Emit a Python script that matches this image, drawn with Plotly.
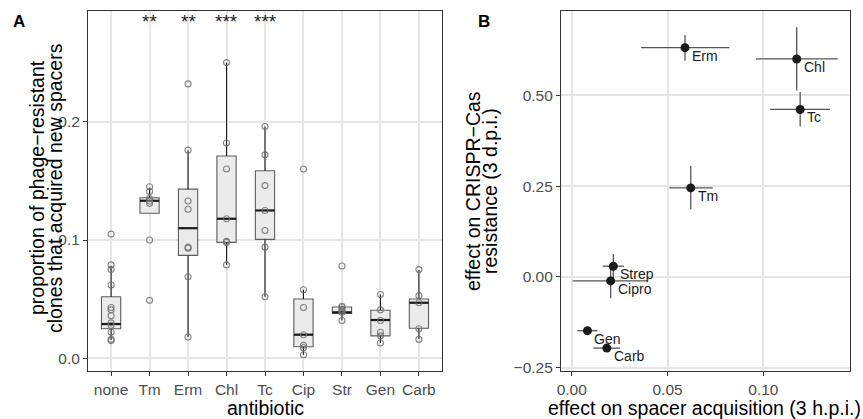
import plotly.graph_objects as go

# ---------------- Panel A data ----------------
categories = ["none", "Tm", "Erm", "Chl", "Tc", "Cip", "Str", "Gen", "Carb"]
box_q1 = [0.025, 0.1226, 0.087, 0.098, 0.1006, 0.0098, 0.038, 0.019, 0.0254]
box_median = [0.029, 0.1332, 0.110, 0.118, 0.125, 0.020, 0.0389, 0.0324, 0.047]
box_q3 = [0.052, 0.1358, 0.143, 0.171, 0.1586, 0.0501, 0.0434, 0.0406, 0.0501]
whisker_low = [0.0155, 0.1226, 0.018, 0.079, 0.052, 0.003, 0.032, 0.013, 0.0163]
whisker_high = [0.0783, 0.1445, 0.176, 0.250, 0.196, 0.058, 0.0445, 0.054, 0.0746]

points_none = [0.105, 0.079, 0.075, 0.062, 0.043, 0.041, 0.036, 0.030, 0.028, 0.022, 0.016, 0.015]
points_tm = [0.145, 0.141, 0.135, 0.133, 0.131, 0.100, 0.049]
points_erm = [0.232, 0.176, 0.133, 0.126, 0.094, 0.093, 0.069, 0.018]
points_chl = [0.250, 0.182, 0.160, 0.118, 0.099, 0.098, 0.079]
points_tc = [0.196, 0.172, 0.146, 0.125, 0.108, 0.094, 0.052]
points_cip = [0.160, 0.058, 0.043, 0.020, 0.011, 0.009, 0.003]
points_str = [0.078, 0.044, 0.043, 0.041, 0.040, 0.039, 0.032]
points_gen = [0.054, 0.041, 0.032, 0.022, 0.019, 0.013]
points_carb = [0.075, 0.053, 0.047, 0.025, 0.016]
significance = ["", "**", "**", "***", "***", "", "", "", ""]

# ---------------- Panel B data ----------------
drug_labels = ["Erm", "Chl", "Tc", "Tm", "Strep", "Cipro", "Gen", "Carb"]
acq_effect = [0.0591, 0.1174, 0.1192, 0.0621, 0.0217, 0.0203, 0.0082, 0.0183]
acq_low = [0.0362, 0.0962, 0.1035, 0.0509, 0.0162, 0.0005, 0.0030, 0.0113]
acq_high = [0.0823, 0.1388, 0.1348, 0.0736, 0.0273, 0.0397, 0.0134, 0.0252]
res_effect = [0.631, 0.600, 0.461, 0.245, 0.0295, -0.011, -0.148, -0.196]
res_low = [0.595, 0.513, 0.414, 0.186, -0.004, -0.059, -0.158, -0.206]
res_high = [0.666, 0.687, 0.509, 0.305, 0.063, 0.037, -0.138, -0.186]

# ---------------- styling ----------------
FONT = "Liberation Sans, Arial, Helvetica, sans-serif"
TICK_COLOR = "#4D4D4D"
GRID = "#E6E6E6"
BORDER = "#333333"
W, H = 863, 419

def px_x(p):
    return p / W

def px_y(p):
    return 1 - p / H

all_points = [points_none, points_tm, points_erm, points_chl, points_tc,
              points_cip, points_str, points_gen, points_carb]
idx = list(range(len(categories)))
half_w = 0.25

fig = go.Figure()

# Boxes (precomputed statistics)
fig.add_trace(go.Box(
    x=idx, q1=box_q1, median=box_median, q3=box_q3,
    lowerfence=box_q1, upperfence=box_q3,
    width=0.5, fillcolor="#EBEBEB", line=dict(color="#5E5E5E", width=1.1),
    boxpoints=False, whiskerwidth=0, xaxis="x", yaxis="y", showlegend=False,
    hoverinfo="skip",
))

# Whiskers
wx, wy = [], []
for i in idx:
    wx += [i, i, None, i, i, None]
    wy += [box_q3[i], whisker_high[i], None, whisker_low[i], box_q1[i], None]
fig.add_trace(go.Scatter(x=wx, y=wy, mode="lines",
                         line=dict(color="#1A1A1A", width=1.1),
                         xaxis="x", yaxis="y", showlegend=False, hoverinfo="skip"))

# Medians
mx, my = [], []
for i in idx:
    mx += [i - half_w, i + half_w, None]
    my += [box_median[i], box_median[i], None]
fig.add_trace(go.Scatter(x=mx, y=my, mode="lines",
                         line=dict(color="#1A1A1A", width=2.2),
                         xaxis="x", yaxis="y", showlegend=False, hoverinfo="skip"))

# Points
px_, py_ = [], []
for i, pts in enumerate(all_points):
    px_ += [i] * len(pts)
    py_ += pts
fig.add_trace(go.Scatter(x=px_, y=py_, mode="markers",
                         marker=dict(symbol="circle-open", size=6,
                                     color="rgba(110,110,110,0.85)",
                                     line=dict(width=1.1, color="rgba(110,110,110,0.85)")),
                         xaxis="x", yaxis="y", showlegend=False, hoverinfo="skip"))

# Significance stars
for i, s in enumerate(significance):
    if s:
        fig.add_annotation(x=i, y=0.285, xref="x", yref="y", text=s, showarrow=False,
                           xanchor="center", yanchor="middle",
                           font=dict(family=FONT, size=19, color="#1A1A1A"))

# Panel B
fig.add_trace(go.Scatter(
    x=acq_effect, y=res_effect, mode="markers",
    marker=dict(size=9, color="#1A1A1A"),
    error_x=dict(type="data", symmetric=False,
                 array=[h - v for h, v in zip(acq_high, acq_effect)],
                 arrayminus=[v - l for v, l in zip(acq_effect, acq_low)],
                 width=0, thickness=1.3, color="#555555"),
    error_y=dict(type="data", symmetric=False,
                 array=[h - v for h, v in zip(res_high, res_effect)],
                 arrayminus=[v - l for v, l in zip(res_effect, res_low)],
                 width=0, thickness=1.3, color="#555555"),
    xaxis="x2", yaxis="y2", showlegend=False, hoverinfo="skip",
))
for lab, xv, yv in zip(drug_labels, acq_effect, res_effect):
    fig.add_annotation(x=xv, y=yv, xref="x2", yref="y2", text=lab, showarrow=False,
                       xanchor="left", yanchor="middle", xshift=5, yshift=-8,
                       font=dict(family=FONT, size=14, color="#1A1A1A"))

axis_common = dict(
    showgrid=True, gridcolor=GRID, gridwidth=1.7, zeroline=False,
    showline=True, linecolor=BORDER, linewidth=1.1, mirror=True,
    ticks="outside", ticklen=4, tickcolor=BORDER, tickwidth=1.1,
    tickfont=dict(family=FONT, size=15.5, color=TICK_COLOR),
    automargin=False,
)

ytop, ybot = 11, 371
fig.update_layout(
    template="none",
    width=W, height=H,
    margin=dict(l=0, r=0, t=0, b=0, pad=0),
    paper_bgcolor="white", plot_bgcolor="white",
    font=dict(family=FONT),
    xaxis=dict(domain=[px_x(88), px_x(442)], range=[-0.6, 8.6],
               tickvals=idx, ticktext=categories, anchor="y", **axis_common),
    yaxis=dict(domain=[px_y(ybot), px_y(ytop)], range=[-0.0107, 0.2936],
               tickvals=[0.0, 0.1, 0.2], ticktext=["0.0", "0.1", "0.2"],
               anchor="x", **axis_common),
    xaxis2=dict(domain=[px_x(561), px_x(850)], range=[-0.0056, 0.1452],
                tickvals=[0.0, 0.05, 0.10], ticktext=["0.00", "0.05", "0.10"],
                anchor="y2", **axis_common),
    yaxis2=dict(domain=[px_y(ybot), px_y(ytop)], range=[-0.259, 0.732],
                tickvals=[-0.25, 0.0, 0.25, 0.5],
                ticktext=["\u22120.25", "0.00", "0.25", "0.50"],
                anchor="x2", **axis_common),
)

title_font = dict(family=FONT, size=19.5, color="black")

def paper_text(xp, yp, text, font, angle=0):
    fig.add_annotation(x=px_x(xp), y=px_y(yp), xref="paper", yref="paper",
                       text=text, textangle=angle, showarrow=False,
                       xanchor="center", yanchor="middle", font=font)

# Axis titles (each line placed separately for tight line spacing)
paper_text(37, 188, "proportion of phage\u2212resistant", title_font, -90)
paper_text(55, 188, "clones that acquired new spacers", title_font, -90)
paper_text(265, 408, "antibiotic", title_font)
paper_text(473, 191, "effect on CRISPR\u2212Cas", title_font, -90)
paper_text(490, 191, "resistance (3 d.p.i.)", title_font, -90)
paper_text(704, 408, "effect on spacer acquisition (3 h.p.i.)", title_font)
# Panel letters
paper_text(19, 21, "<b>A</b>", dict(family=FONT, size=17, color="black"))
paper_text(484, 21, "<b>B</b>", dict(family=FONT, size=17, color="black"))

fig.write_html("out.html")
